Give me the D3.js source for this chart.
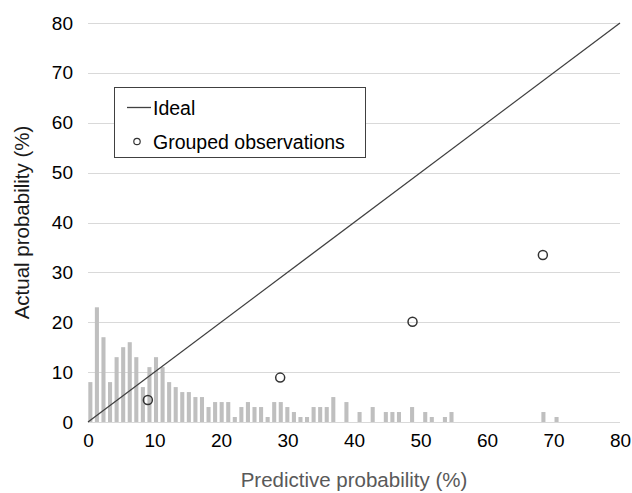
<!DOCTYPE html>
<html lang="en">
<head>
    <meta charset="UTF-8">
    <title>Calibration plot</title>
    <style>
        body { margin: 0; background: #fff; }
        svg text { font-family: "Liberation Sans", Arial, sans-serif; }
    </style>
</head>
<body>
    <div id="my_dataviz"></div>

    <script src="https://d3js.org/d3.v7.min.js"></script>
    <script>

        // histogram of predictions, one bar per 1% bin (0..80)
        const bins = d3.range(0, 81);
        const counts = [8, 23, 17, 8, 13, 15, 16, 13, 7, 11,
                        13, 11, 8, 7, 6, 6, 5, 5, 3, 4,
                        4, 4, 1, 3, 4, 3, 3, 1, 4, 4,
                        3, 2, 1, 1, 3, 3, 3, 5, 0, 4,
                        0, 2, 0, 3, 0, 2, 2, 2, 0, 3,
                        0, 2, 1, 0, 1, 2, 0, 0, 0, 0,
                        0, 0, 0, 0, 0, 0, 0, 0, 0, 2,
                        0, 1, 0, 0, 0, 0, 0, 0, 0, 0, 0];

        // grouped observations
        const groupPredicted = [9.0, 28.9, 48.8, 68.4];
        const groupActual = [4.4, 8.9, 20.1, 33.5];

        // ideal line
        const ideal = [[0, 0], [80, 80]];

        const ticks = [0, 10, 20, 30, 40, 50, 60, 70, 80];

        const W = 632, H = 493;
        const margin = {left: 88, right: 620, top: 23, bottom: 422};

        const svg = d3.select("#my_dataviz")
          .append("svg")
            .attr("width", W)
            .attr("height", H);

        const x = d3.scaleLinear().domain([0, 80]).range([margin.left, margin.right]);
        const y = d3.scaleLinear().domain([0, 80]).range([margin.bottom, margin.top]);

        // bar categories spread over the same width
        const xb = d3.scaleBand()
          .domain(bins)
          .range([margin.left - 1, margin.right - 1])
          .paddingInner(0.38)
          .paddingOuter(0.2);

        // grid
        svg.append("g")
          .selectAll("line")
          .data(ticks)
          .join("line")
            .attr("x1", margin.left)
            .attr("x2", margin.right)
            .attr("y1", d => Math.round(y(d)) + 0.5)
            .attr("y2", d => Math.round(y(d)) + 0.5)
            .attr("stroke", "#d9d9d9")
            .attr("stroke-width", 1.2);

        // Y axis labels
        const yAxis = svg.append("g")
          .attr("transform", `translate(${margin.left},0)`)
          .call(d3.axisLeft(y).tickValues(ticks).tickSize(0).tickPadding(15));
        yAxis.select(".domain").remove();
        yAxis.selectAll("text")
          .style("font-size", "19px")
          .attr("fill", "#000");

        // X axis labels
        const xAxis = svg.append("g")
          .attr("transform", `translate(0,${margin.bottom})`)
          .call(d3.axisBottom(x).tickValues(ticks).tickSize(0).tickPadding(12));
        xAxis.select(".domain").remove();
        xAxis.selectAll("text")
          .style("font-size", "19px")
          .attr("fill", "#000");

        // bars
        svg.selectAll("mybar")
          .data(bins.filter(d => counts[d] > 0))
          .join("rect")
            .attr("x", d => xb(d))
            .attr("y", d => y(counts[d]))
            .attr("width", xb.bandwidth())
            .attr("height", d => margin.bottom - y(counts[d]))
            .attr("fill", "#bfbfbf");

        // ideal line
        svg.append("path")
          .datum(ideal)
          .attr("d", d3.line().x(d => x(d[0])).y(d => y(d[1])))
          .attr("fill", "none")
          .attr("stroke", "#404040")
          .attr("stroke-width", 1.3);

        // grouped observations
        svg.selectAll("circle.obs")
          .data(groupPredicted)
          .join("circle")
            .attr("class", "obs")
            .attr("cx", d => x(d))
            .attr("cy", (d, i) => y(groupActual[i]))
            .attr("r", 4.5)
            .attr("fill", "none")
            .attr("stroke", "#333")
            .attr("stroke-width", 1.5);

        // axis titles
        svg.append("text")
          .attr("x", 354)
          .attr("y", 487)
          .attr("text-anchor", "middle")
          .style("font-size", "20.5px")
          .attr("fill", "#595959")
          .text("Predictive probability (%)");

        svg.append("text")
          .attr("transform", `translate(29,${(margin.top + margin.bottom) / 2})rotate(-90)`)
          .attr("text-anchor", "middle")
          .style("font-size", "20.5px")
          .attr("fill", "#1a1a1a")
          .text("Actual probability (%)");

        // legend
        const lg = svg.append("g");
        lg.append("rect")
          .attr("x", 114.5)
          .attr("y", 87.5)
          .attr("width", 251)
          .attr("height", 70)
          .attr("fill", "#fff")
          .attr("stroke", "#404040")
          .attr("stroke-width", 1);
        lg.append("line")
          .attr("x1", 127)
          .attr("x2", 151)
          .attr("y1", 107.5)
          .attr("y2", 107.5)
          .attr("stroke", "#404040")
          .attr("stroke-width", 1.3);
        lg.append("text")
          .attr("x", 153)
          .attr("y", 114.5)
          .style("font-size", "19.5px")
          .text("Ideal");
        lg.append("circle")
          .attr("cx", 137)
          .attr("cy", 141.5)
          .attr("r", 3.2)
          .attr("fill", "none")
          .attr("stroke", "#333")
          .attr("stroke-width", 1.2);
        lg.append("text")
          .attr("x", 153)
          .attr("y", 148.5)
          .style("font-size", "19.5px")
          .text("Grouped observations");

    </script>
</body>
</html>
